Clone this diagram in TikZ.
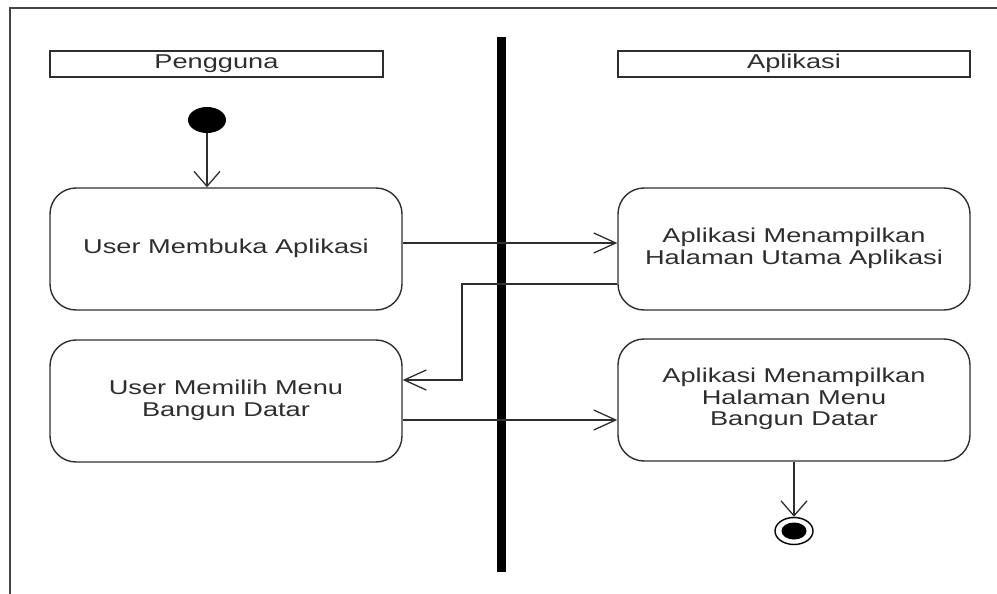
\documentclass[tikz,border=0pt]{standalone}
\usepackage{fontspec}
\setmainfont{Liberation Sans}
\usetikzlibrary{arrows.meta,shapes.geometric}
\definecolor{ink}{HTML}{2E2E2E}
\definecolor{frameink}{HTML}{444444}
\newcommand\wtext[1]{\scalebox{1.36}[1]{\fontsize{20}{21.5}\selectfont\begin{tabular}{@{}c@{}}#1\end{tabular}}}
\tikzset{
  x=1pt, y=1pt,
  actbox/.style={draw=ink, line width=1.4pt, rectangle, rounded corners=26pt,
    minimum width=352pt, minimum height=122pt, inner sep=0pt, text=ink},
  lanebox/.style={draw=ink, line width=1.6pt, rectangle, minimum height=26pt,
    inner sep=0pt, text=ink},
  flow/.style={draw=ink, line width=1.3pt},
  harr/.style={flow, -{Straight Barb[length=22pt,width=20pt,line width=1.3pt]}},
  varr/.style={flow, -{Straight Barb[length=15pt,width=26pt,line width=1.3pt]}},
}
\begin{document}
\begin{tikzpicture}
\useasboundingbox (0,0) rectangle (997,-594);
% frame
\draw[frameink, line width=2pt] (10,-594) -- (10,-8) -- (997,-8);
% swimlane divider
\fill[black] (497,-37) rectangle (506,-572);
% lane headers
\node[lanebox, minimum width=333pt] (lane1) at (216.5,-64) {\wtext{Pengguna}};
\node[lanebox, minimum width=352pt] (lane2) at (794,-64) {\wtext{Aplikasi}};
% start / end
\node[ellipse, fill=black, minimum width=38pt, minimum height=26pt, inner sep=0pt] (start) at (207,-120) {};
\node[ellipse, draw=black, line width=1.4pt, minimum width=38pt, minimum height=27pt, inner sep=0pt] (end) at (794,-531) {};
\node[ellipse, fill=black, minimum width=25pt, minimum height=17pt, inner sep=0pt] (endin) at (794,-531) {};
% activities
\node[actbox] (a1) at (226,-249) {\wtext{User Membuka Aplikasi}};
\node[actbox] (a2) at (226,-401) {\wtext{User Memilih Menu\\Bangun Datar}};
\node[actbox] (b1) at (794,-249) {\wtext{Aplikasi Menampilkan\\Halaman Utama Aplikasi}};
\node[actbox] (b2) at (794,-400) {\wtext{Aplikasi Menampilkan\\Halaman Menu\\Bangun Datar}};
% connectors
\draw[varr] (start.south) -- (start.south |- a1.north);
\draw[harr] ([yshift=6pt]a1.east) -- ([yshift=6pt]b1.west);
\coordinate (bend) at (462,-380);
\draw[harr] ([yshift=-35pt]b1.west) -| (bend) -- (a2.east |- bend);
\draw[harr] ([yshift=-19pt]a2.east) -- ([yshift=-20pt]b2.west);
\draw[varr] (b2.south) -- (end.north);
\end{tikzpicture}
\end{document}
